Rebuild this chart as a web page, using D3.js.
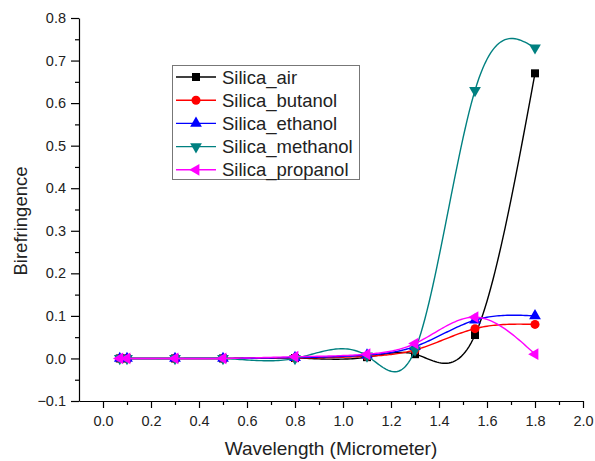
<!DOCTYPE html>
<html>
<head>
<meta charset="utf-8">
<script src="https://cdn.jsdelivr.net/npm/d3@7"></script>
<style>
  body { margin: 0; background: #fff; }
  text { font-family: "Liberation Sans", Arial, sans-serif; }
</style>
</head>
<body>
<div id="chart"></div>
<script>
'use strict';

// values
const wavelengths = [0.07, 0.1, 0.3, 0.5, 0.8, 1.1, 1.3, 1.55, 1.8];
const silicaAir = [0, 0, 0, 0, 0.001, 0.003, 0.01, 0.055, 0.67];
const silicaButanol = [0, 0, 0, 0, 0.001, 0.005, 0.02, 0.07, 0.08];
const silicaEthanol = [0, 0, 0, 0, 0.002, 0.008, 0.028, 0.09, 0.1];
const silicaMethanol = [0, 0, 0, 0, 0, 0.006, 0.02, 0.63, 0.73];
const silicaPropanol = [0, 0, 0, 0, 0.004, 0.01, 0.035, 0.097, 0.01];

const seriesNames = ['Silica_air', 'Silica_butanol', 'Silica_ethanol', 'Silica_methanol', 'Silica_propanol'];
const seriesValues = [silicaAir, silicaButanol, silicaEthanol, silicaMethanol, silicaPropanol];
const seriesColors = ['#000000', '#ff0000', '#0000ff', '#008080', '#ff00ff'];

const xTicks = [0.0, 0.2, 0.4, 0.6, 0.8, 1.0, 1.2, 1.4, 1.6, 1.8, 2.0];
const xMinor = [0.1, 0.3, 0.5, 0.7, 0.9, 1.1, 1.3, 1.5, 1.7, 1.9];
const yTicks = [-0.1, 0.0, 0.1, 0.2, 0.3, 0.4, 0.5, 0.6, 0.7, 0.8];
const yMinor = [-0.05, 0.05, 0.15, 0.25, 0.35, 0.45, 0.55, 0.65, 0.75];

const width = 595, height = 461;

const svg = d3.select('#chart').append('svg')
    .attr('width', width)
    .attr('height', height);

const x = d3.scaleLinear().domain([-0.1, 2.0]).range([79, 583]);
const y = d3.scaleLinear().domain([-0.1, 0.8]).range([401, 18]);

// natural cubic spline y(x), the way the original plot joins its points
function naturalSpline(xs, ys) {
  const n = xs.length;
  const h = [];
  for (let i = 0; i < n - 1; i++) h.push(xs[i + 1] - xs[i]);
  const a = [], b = [], c = [], d = [];
  for (let i = 1; i < n - 1; i++) {
    a.push(h[i - 1]);
    b.push(2 * (h[i - 1] + h[i]));
    c.push(h[i]);
    d.push(6 * ((ys[i + 1] - ys[i]) / h[i] - (ys[i] - ys[i - 1]) / h[i - 1]));
  }
  const m = a.length;
  for (let i = 1; i < m; i++) {
    const w = a[i] / b[i - 1];
    b[i] -= w * c[i - 1];
    d[i] -= w * d[i - 1];
  }
  const sol = new Array(m);
  sol[m - 1] = d[m - 1] / b[m - 1];
  for (let i = m - 2; i >= 0; i--) sol[i] = (d[i] - c[i] * sol[i + 1]) / b[i];
  const M = [0, ...sol, 0];

  const pts = [];
  for (let i = 0; i < n - 1; i++) {
    const steps = 30;
    for (let k = 0; k <= steps; k++) {
      if (i > 0 && k === 0) continue;
      const t = xs[i] + h[i] * k / steps;
      const A = xs[i + 1] - t, B = t - xs[i];
      const v = M[i] * A * A * A / (6 * h[i]) + M[i + 1] * B * B * B / (6 * h[i])
        + (ys[i] / h[i] - M[i] * h[i] / 6) * A + (ys[i + 1] / h[i] - M[i + 1] * h[i] / 6) * B;
      pts.push([t, v]);
    }
  }
  return pts;
}

// axes
const fmt = d3.format('.1f');

svg.append('g')
    .attr('transform', 'translate(0,' + y(-0.1) + ')')
    .call(d3.axisBottom(x).tickValues(xTicks).tickFormat(fmt).tickSize(7).tickSizeOuter(0).tickPadding(8))
    .call(g => g.selectAll('text').attr('font-size', 14.5).attr('font-family', null).attr('fill', '#222'));

svg.append('g')
    .attr('transform', 'translate(0,' + y(-0.1) + ')')
    .call(d3.axisBottom(x).tickValues(xMinor).tickFormat('').tickSize(4).tickSizeOuter(0))
    .call(g => g.select('.domain').remove());

svg.append('g')
    .attr('transform', 'translate(' + x(-0.1) + ',0)')
    .call(d3.axisLeft(y).tickValues(yTicks).tickFormat(fmt).tickSize(8).tickSizeOuter(0).tickPadding(5))
    .call(g => g.selectAll('text').attr('font-size', 14.5).attr('font-family', null).attr('fill', '#222'));

svg.append('g')
    .attr('transform', 'translate(' + x(-0.1) + ',0)')
    .call(d3.axisLeft(y).tickValues(yMinor).tickFormat('').tickSize(4).tickSizeOuter(0))
    .call(g => g.select('.domain').remove());

svg.selectAll('.domain, .tick line').attr('stroke', '#000').attr('stroke-width', 1.2);

// axis titles
svg.append('text')
    .attr('x', 331)
    .attr('y', 455)
    .attr('text-anchor', 'middle')
    .attr('font-size', 19)
    .attr('fill', '#222')
    .text('Wavelength (Micrometer)');

svg.append('text')
    .attr('transform', 'translate(27,221) rotate(-90)')
    .attr('text-anchor', 'middle')
    .attr('font-size', 18.5)
    .attr('fill', '#222')
    .text('Birefringence');

// markers
const symbols = [
  {type: d3.symbolSquare, size: 64, rotate: 0},
  {type: d3.symbolCircle, size: 64, rotate: 0},
  {type: d3.symbolTriangle, size: 60, rotate: 0},
  {type: d3.symbolTriangle, size: 60, rotate: 180},
  {type: d3.symbolTriangle, size: 60, rotate: -90}
];

const line = d3.line()
    .x(d => x(d[0]))
    .y(d => y(d[1]));

seriesValues.forEach((vals, si) => {
  const g = svg.append('g').attr('class', 'series');
  g.append('path')
      .datum(naturalSpline(wavelengths, vals))
      .attr('d', line)
      .attr('fill', 'none')
      .attr('stroke', seriesColors[si])
      .attr('stroke-width', 1.4);

  const sym = symbols[si];
  g.selectAll('.pt')
      .data(wavelengths.map((w, i) => [w, vals[i]]))
      .enter().append('path')
      .attr('class', 'pt')
      .attr('d', d3.symbol().type(sym.type).size(sym.size))
      .attr('transform', d => 'translate(' + x(d[0]) + ',' + y(d[1]) + ') rotate(' + sym.rotate + ')')
      .attr('fill', seriesColors[si]);
});

// legend
const legend = svg.append('g');
legend.append('rect')
    .attr('x', 172.5)
    .attr('y', 65.5)
    .attr('width', 187)
    .attr('height', 114)
    .attr('fill', '#fff')
    .attr('stroke', '#777')
    .attr('stroke-width', 1);

seriesNames.forEach((name, si) => {
  const ly = 77 + si * 23.2;
  legend.append('line')
      .attr('x1', 176).attr('x2', 216)
      .attr('y1', ly).attr('y2', ly)
      .attr('stroke', seriesColors[si])
      .attr('stroke-width', 1.4);
  legend.append('path')
      .attr('d', d3.symbol().type(symbols[si].type).size(symbols[si].size))
      .attr('transform', 'translate(196,' + ly + ') rotate(' + symbols[si].rotate + ')')
      .attr('fill', seriesColors[si]);
  legend.append('text')
      .attr('x', 222)
      .attr('y', ly)
      .attr('dy', '0.36em')
      .attr('font-size', 18.5)
      .attr('fill', '#222')
      .text(name);
});
</script>
</body>
</html>
